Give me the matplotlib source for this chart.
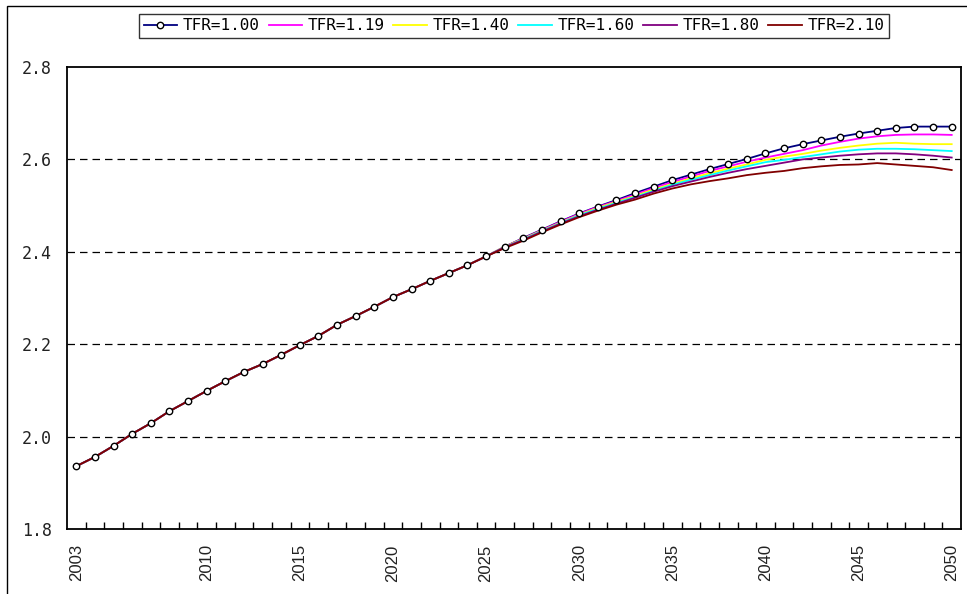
import matplotlib
matplotlib.use("Agg")
import matplotlib.pyplot as plt
from matplotlib.lines import Line2D
from matplotlib.patches import Rectangle

years = list(range(2003, 2051))

# common path before the fertility scenarios separate
base = [1.936, 1.956, 1.980, 2.006, 2.029, 2.055, 2.077, 2.099, 2.120, 2.140,
        2.157, 2.177, 2.198, 2.218, 2.242, 2.261, 2.281, 2.302, 2.319, 2.337,
        2.354, 2.371, 2.390]

# 2026-2050 by scenario
tail_100 = [2.411, 2.430, 2.448, 2.466, 2.483, 2.498, 2.512, 2.527, 2.541, 2.555,
            2.567, 2.579, 2.590, 2.601, 2.613, 2.624, 2.633, 2.641, 2.649, 2.656,
            2.662, 2.668, 2.671, 2.671, 2.671]
tail_119 = [2.411, 2.429, 2.447, 2.465, 2.482, 2.497, 2.510, 2.524, 2.538, 2.551,
            2.563, 2.575, 2.585, 2.595, 2.604, 2.612, 2.620, 2.630, 2.638, 2.645,
            2.650, 2.653, 2.654, 2.654, 2.653]
tail_140 = [2.411, 2.428, 2.446, 2.463, 2.480, 2.495, 2.508, 2.521, 2.535, 2.547,
            2.559, 2.570, 2.580, 2.589, 2.599, 2.606, 2.612, 2.619, 2.625, 2.630,
            2.634, 2.636, 2.634, 2.633, 2.633]
tail_160 = [2.410, 2.427, 2.445, 2.462, 2.479, 2.493, 2.506, 2.519, 2.532, 2.545,
            2.556, 2.566, 2.576, 2.585, 2.594, 2.599, 2.605, 2.611, 2.617, 2.621,
            2.623, 2.623, 2.622, 2.620, 2.618]
tail_180 = [2.410, 2.426, 2.444, 2.461, 2.477, 2.491, 2.504, 2.517, 2.530, 2.542,
            2.552, 2.562, 2.571, 2.579, 2.586, 2.593, 2.600, 2.604, 2.608, 2.611,
            2.613, 2.613, 2.611, 2.608, 2.604]
tail_210 = [2.408, 2.424, 2.442, 2.459, 2.475, 2.489, 2.502, 2.513, 2.526, 2.537,
            2.546, 2.553, 2.559, 2.566, 2.571, 2.575, 2.581, 2.585, 2.588, 2.589,
            2.592, 2.589, 2.586, 2.583, 2.577]

labels = ["TFR=1.00", "TFR=1.19", "TFR=1.40", "TFR=1.60", "TFR=1.80", "TFR=2.10"]
colors = ["#000080", "#FF00FF", "#FFFF00", "#00FFFF", "#800080", "#800000"]
tails = [tail_100, tail_119, tail_140, tail_160, tail_180, tail_210]

xtick_years = [2003, 2010, 2015, 2020, 2025, 2030, 2035, 2040, 2045, 2050]
yticks = [1.8, 2.0, 2.2, 2.4, 2.6, 2.8]

W, H = 967, 594
fig = plt.figure(figsize=(W / 100, H / 100), dpi=100)
ax = fig.add_axes([67 / W, 1 - 529 / H, (961 - 67) / W, (529 - 67) / H])

lw = 1.3
for lab, col, tail in zip(labels, colors, tails):
    ax.plot(years, base + tail, color=col, lw=lw, zorder=3, solid_joinstyle="round")

# open circle markers on the first scenario
ax.plot(years, base + tail_100, ls="none", marker="o", ms=4.6, mfc="white",
        mec="black", mew=1.0, zorder=5)

ax.set_xlim(2002.5, 2050.5)
ax.set_ylim(1.8, 2.8)

# dashed horizontal gridlines
for y in [2.0, 2.2, 2.4, 2.6]:
    ax.axhline(y, color="black", lw=0.9, ls=(0, (6, 4)), zorder=1)

for s in ax.spines.values():
    s.set_linewidth(1.3)
    s.set_color("black")

ax.set_yticks(yticks)
ax.set_yticklabels([f"{v:.1f}" for v in yticks], family="DejaVu Sans Mono",
                   fontsize=12, color="#222222")
ax.tick_params(axis="y", length=0, pad=11)

ax.set_xticks(xtick_years)
ax.set_xticklabels([str(y) for y in xtick_years], rotation=90,
                   family="Liberation Sans", fontsize=12, color="#222222")
ax.tick_params(axis="x", which="major", length=0, pad=11)
ax.set_xticks([y + 0.5 for y in range(2003, 2050)], minor=True)
ax.tick_params(axis="x", which="minor", direction="in", length=5, width=1.0,
               color="black")

handles = []
for i, (lab, col) in enumerate(zip(labels, colors)):
    if i == 0:
        h = Line2D([], [], color=col, lw=lw, marker="o", ms=4.6, mfc="white",
                   mec="black", mew=1.0)
    else:
        h = Line2D([], [], color=col, lw=lw)
    handles.append(h)

leg = fig.legend(handles, labels, loc="center", ncol=6,
                 bbox_to_anchor=((141 + 887) / 2 / W, 1 - 26 / H),
                 prop={"family": "DejaVu Sans Mono", "size": 11.5},
                 handlelength=2.1, handletextpad=0.35, columnspacing=0.55,
                 borderpad=0.3, fancybox=False, frameon=True, markerscale=1.0)
leg.get_frame().set_edgecolor("black")
leg.get_frame().set_linewidth(1.0)

# chart area border
fig.add_artist(Rectangle((7 / W, -0.1), 1.1, 1.1 - 6 / H, transform=fig.transFigure,
                         fill=False, edgecolor="black", lw=1.0, clip_on=False))

fig.savefig("out.png", dpi=100)
